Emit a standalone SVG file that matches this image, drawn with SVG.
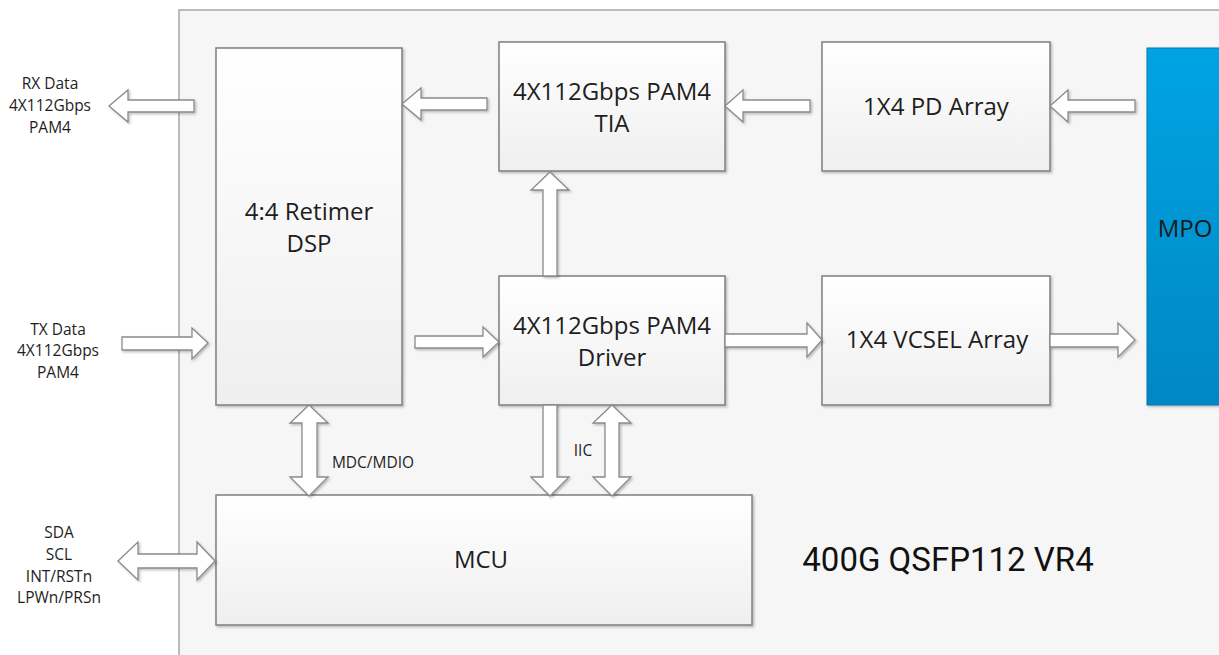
<svg xmlns="http://www.w3.org/2000/svg" width="1219" height="655" viewBox="0 0 1219 655">
<style>
.box{fill:url(#boxg);stroke:#7f7f7f;stroke-width:1.5;filter:url(#sh)}
.arr{fill:#ffffff;stroke:#8a8a8a;stroke-width:1.3;stroke-linejoin:miter;filter:url(#sh)}
.t{font-family:"Open Sans","Liberation Sans",sans-serif;fill:#1e1e1e;text-anchor:middle}
.big{font-size:24px}
.sm{font-size:15.5px}
.title{font-family:Roboto,"Liberation Sans",sans-serif;font-size:33px;fill:#111111}
</style>
<defs>
<linearGradient id="boxg" x1="0" y1="0" x2="0" y2="1">
<stop offset="0" stop-color="#ffffff"/>
<stop offset="1" stop-color="#efefef"/>
</linearGradient>
<linearGradient id="mpog" x1="0" y1="0" x2="0" y2="1">
<stop offset="0" stop-color="#00a4e2"/>
<stop offset="1" stop-color="#0087c4"/>
</linearGradient>
<filter id="sh" x="-10%" y="-10%" width="130%" height="130%">
<feDropShadow dx="1.5" dy="1.5" stdDeviation="1.2" flood-color="#000" flood-opacity="0.25"/>
</filter>
</defs>
<rect width="1219" height="655" fill="#ffffff"/>
<g id="module">
<rect x="179" y="10" width="1060" height="660" fill="#f6f6f6" stroke="#a6a6a6" stroke-width="1.5"/>
<text class="title" x="948" y="571" text-anchor="middle">400G QSFP112 VR4</text>
</g>
<g id="retimer">
<rect class="box" x="216" y="48" width="186" height="357"/>
<text class="t big" x="309" y="220">4:4 Retimer</text>
<text class="t big" x="309" y="252">DSP</text>
</g>
<g id="tia">
<rect class="box" x="499" y="42" width="226" height="129"/>
<text class="t big" x="612" y="100">4X112Gbps PAM4</text>
<text class="t big" x="612" y="132">TIA</text>
</g>
<g id="driver">
<rect class="box" x="499" y="276" width="226" height="129"/>
<text class="t big" x="612" y="334">4X112Gbps PAM4</text>
<text class="t big" x="612" y="366">Driver</text>
</g>
<g id="pd">
<rect class="box" x="822" y="42" width="228" height="129"/>
<text class="t big" x="936" y="115">1X4 PD Array</text>
</g>
<g id="vcsel">
<rect class="box" x="822" y="276" width="228" height="129"/>
<text class="t big" x="937" y="348">1X4 VCSEL Array</text>
</g>
<g id="mpo">
<rect x="1147" y="48" width="80" height="357" fill="url(#mpog)" stroke="#0078b0" stroke-width="1" filter="url(#sh)"/>
<text class="t big" x="1185" y="237" style="fill:#1a1a1a">MPO</text>
</g>
<g id="mcu">
<rect class="box" x="216" y="495" width="536" height="130"/>
<text class="t big" x="481" y="568">MCU</text>
</g>
<g id="labels">
<text class="t sm" x="50" y="89">RX Data</text>
<text class="t sm" x="50" y="111">4X112Gbps</text>
<text class="t sm" x="50" y="133">PAM4</text>
<text class="t sm" x="58" y="335">TX Data</text>
<text class="t sm" x="58" y="356">4X112Gbps</text>
<text class="t sm" x="58" y="378">PAM4</text>
<text class="t sm" x="59" y="538">SDA</text>
<text class="t sm" x="59" y="560">SCL</text>
<text class="t sm" x="59" y="582">INT/RSTn</text>
<text class="t sm" x="59" y="603">LPWn/PRSn</text>
<text class="t sm" x="373" y="468">MDC/MDIO</text>
<text class="t sm" x="583" y="456">IIC</text>
</g>
<g id="connectors">
<!-- RX out -->
<polygon class="arr" points="109,106 128,90 128,100 194,100 194,112 128,112 128,122"/>
<!-- TIA -> Retimer -->
<polygon class="arr" points="402,104 421,88 421,98 487,98 487,110 421,110 421,120"/>
<!-- PD -> TIA -->
<polygon class="arr" points="725,106 743,90 743,100 810,100 810,112 743,112 743,122"/>
<!-- MPO -> PD -->
<polygon class="arr" points="1050,106 1068,90 1068,100 1135,100 1135,112 1068,112 1068,122"/>
<!-- TX in -->
<polygon class="arr" points="208,343 192,328 192,337 122,337 122,350 192,350 192,359"/>
<!-- Retimer -> Driver -->
<polygon class="arr" points="499,342 483,327 483,336 415,336 415,348 483,348 483,357"/>
<!-- Driver -> VCSEL -->
<polygon class="arr" points="822,340 807,323 807,334 725,334 725,347 807,347 807,357"/>
<!-- VCSEL -> MPO -->
<polygon class="arr" points="1135,340 1118,323 1118,334 1050,334 1050,347 1118,347 1118,357"/>
<!-- Driver -> TIA up -->
<polygon class="arr" points="550,172 569,190 557,190 557,276 543,276 543,190 531,190"/>
<!-- MDC/MDIO double -->
<polygon class="arr" points="309,405 328,423 317,423 317,477 328,477 309,496 290,477 302,477 302,423 290,423"/>
<!-- IIC down -->
<polygon class="arr" points="543,405 557,405 557,477 569,477 550,496 531,477 543,477"/>
<!-- IIC double -->
<polygon class="arr" points="612,405 631,423 619,423 619,477 631,477 612,496 593,477 605,477 605,423 593,423"/>
<!-- SDA double -->
<polygon class="arr" points="118,561 138,542 138,554 197,554 197,542 215,561 197,580 197,568 138,568 138,580"/>
</g>
</svg>
